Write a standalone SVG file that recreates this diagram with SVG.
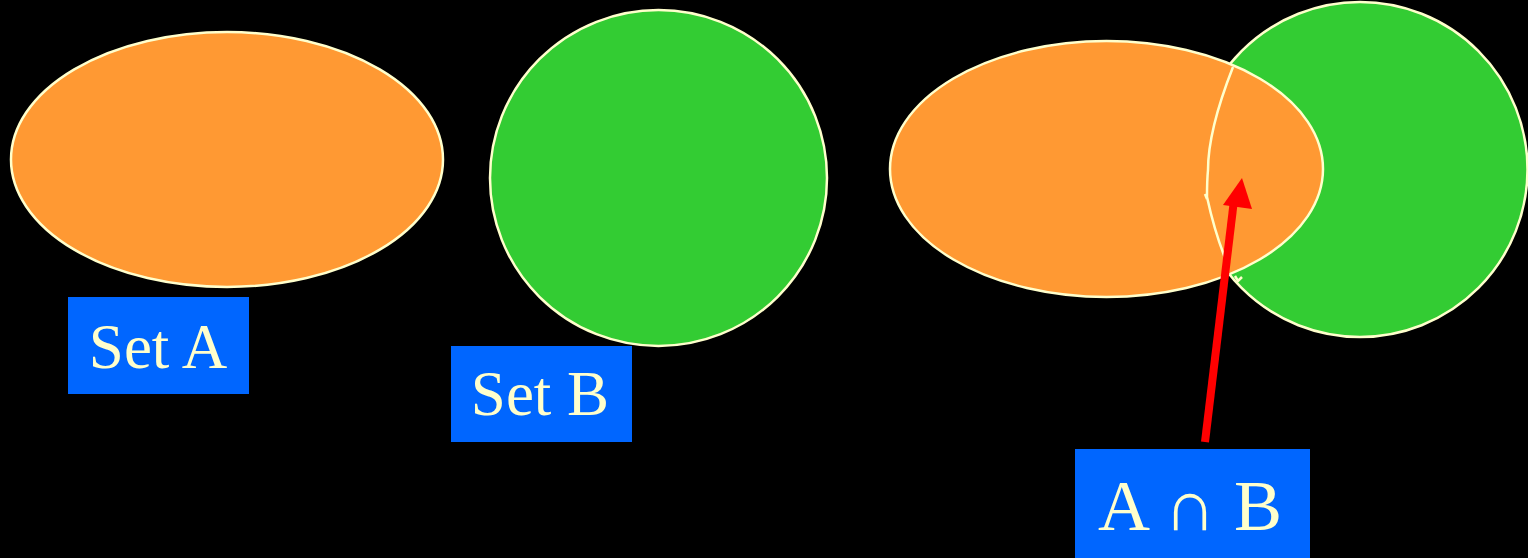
<svg xmlns="http://www.w3.org/2000/svg" width="1528" height="558" viewBox="0 0 1528 558">
<style>
.a{fill:#FF9933;stroke:#FFFFCC;stroke-width:2.5}
.b{fill:#33CC33;stroke:#FFFFCC;stroke-width:2.5}
.box{fill:#0066FF}
.t{font-family:"Liberation Serif","Times New Roman",serif;fill:#FFFFCC}
.ln{fill:none;stroke:#FFFFCC;stroke-width:2.5}
</style>
<rect width="1528" height="558" fill="#000"/>
<g id="setA">
<ellipse class="a" cx="227" cy="159.5" rx="216" ry="127.5"/>
</g>
<g id="setB">
<ellipse class="b" cx="658.5" cy="178" rx="168.5" ry="168"/>
</g>
<g id="intersection">
<ellipse class="b" cx="1360" cy="169.5" rx="167.5" ry="167.5"/>
<ellipse class="a" cx="1106.5" cy="169" rx="216.5" ry="128"/>
<path class="ln" d="M1233,67 C1220,100 1208,140 1208,170 C1207,180 1207,190 1207,197 C1212,220 1218,240 1225,258"/>
<path class="ln" d="M1205,194 L1207,199"/>
<path class="ln" d="M1235,276 L1238,281 L1242,277"/>
</g>
<g id="labelA">
<rect class="box" x="68" y="297" width="181" height="97"/>
<text class="t" x="158" y="368" font-size="63" text-anchor="middle">Set A</text>
</g>
<g id="labelB">
<rect class="box" x="451" y="346" width="181" height="96"/>
<text class="t" x="540" y="415" font-size="63" text-anchor="middle">Set B</text>
</g>
<g id="labelAB">
<rect class="box" x="1075" y="449" width="235" height="109"/>
<text class="t" x="1190" y="530" font-size="72" text-anchor="middle">A ∩ B</text>
</g>
<g id="connectors">
<line x1="1205" y1="442" x2="1234" y2="200" stroke="#FF0000" stroke-width="8"/>
<polygon points="1242,178 1223,205 1252,209" fill="#FF0000"/>
</g>
</svg>
